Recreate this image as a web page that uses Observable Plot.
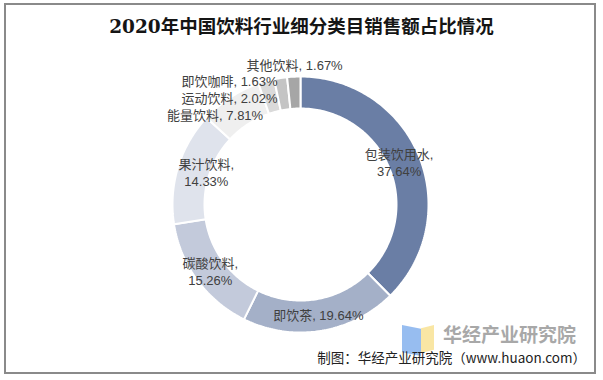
<!DOCTYPE html>
<html>
<head>
<meta charset="utf-8">
<script src="https://cdn.jsdelivr.net/npm/d3@7"></script>
<script src="https://cdn.jsdelivr.net/npm/@observablehq/plot@0.6"></script>
<style>
  html, body { margin: 0; padding: 0; background: #fff; }
  #wrap { position: relative; width: 603px; height: 380px; overflow: hidden; background: #fff; }
  #frame { position: absolute; left: 4px; top: 3px; width: 592px; height: 371px; box-sizing: border-box; border: 2px solid #8a8a8a; pointer-events: none; }
  #title { position: absolute; left: 0; top: 15px; width: 603px; text-align: center; font-family: "DejaVu Serif", "Noto Sans CJK SC", serif; font-weight: bold; font-size: 18.5px; line-height: 24px; color: #151515; }
  #chart { position: absolute; left: 0; top: 0; }
  #wm { position: absolute; left: 443px; top: 321px; font-family: "Noto Sans CJK SC", sans-serif; font-weight: bold; font-size: 19px; line-height: 26px; color: #9a9a9a; opacity: 0.85; }
  #iconB { position: absolute; left: 402px; top: 325px; width: 19px; height: 31px; background: #8cb6ee; clip-path: polygon(0 0, 100% 12%, 100% 100%, 0 88%); opacity: 0.9; }
  #iconY { position: absolute; left: 421px; top: 325px; width: 13px; height: 28px; background: #f8e39a; clip-path: polygon(0 12%, 100% 0, 100% 88%, 0 100%); opacity: 0.9; }
  #caption { position: absolute; right: 17px; top: 347px; font-family: "Noto Sans CJK SC", sans-serif; font-size: 13.5px; line-height: 20px; color: #222; white-space: nowrap; }
</style>
</head>
<body>
<div id="wrap">
  <div id="iconB"></div>
  <div id="iconY"></div>
  <div id="wm">华经产业研究院</div>
  <div id="chart"></div>
  <div id="title">2020年中国饮料行业细分类目销售额占比情况</div>
  <div id="caption">制图：华经产业研究院（www.huaon.com）</div>
  <div id="frame"></div>
</div>
<script>
// ---- data ----
const categories = ["包装饮用水", "即饮茶", "碳酸饮料", "果汁饮料", "能量饮料", "运动饮料", "即饮咖啡", "其他饮料"];
const shares = [37.64, 19.64, 15.26, 14.33, 7.81, 2.02, 1.63, 1.67];
const palette = ["#6a7ea5", "#a4b0c8", "#c3cadb", "#dfe3ec", "#efefef", "#dadada", "#c4c4c4", "#a6a6a6"];

// ---- layout ----
const W = 603, H = 380;
const cx = 300, cy = 204, rOuter = 128, rInner = 96, rLabel = 112;

const rows = categories.map((name, i) => ({name, share: shares[i]}));
const arcs = d3.pie().sort(null).value(d => d.share)(rows);

const pt = (a, r) => [cx + r * Math.sin(a), cy - r * Math.cos(a)];

// polygon points for each slice
const pts = [];
arcs.forEach(a => {
  const n = Math.max(2, Math.ceil((a.endAngle - a.startAngle) / (Math.PI / 180)));
  const ring = [];
  for (let k = 0; k <= n; k++) ring.push(pt(a.startAngle + (a.endAngle - a.startAngle) * k / n, rOuter));
  for (let k = n; k >= 0; k--) ring.push(pt(a.startAngle + (a.endAngle - a.startAngle) * k / n, rInner));
  ring.push(ring[0]);
  ring.forEach(([x, y]) => pts.push({name: a.data.name, x, y}));
});

// labels
const labels = [];
let prevY = null;
const smallArcs = arcs.filter(a => a.data.share < 10);
arcs.forEach(a => {
  const mid = (a.startAngle + a.endAngle) / 2;
  const [x, y] = pt(mid, rLabel);
  const pct = a.data.share.toFixed(2) + "%";
  if (a.data.share >= 10) {
    const wrap = a.data.name.length >= 4;
    const shift = Math.abs(Math.sin(mid)) > 0.9 && Math.sin(mid) < 0 ? 13 : (Math.sin(mid) > 0.9 ? -5 : 0);
    labels.push({x: x + shift, y, text: a.data.name + (wrap ? ",\n" : ", ") + pct, anchor: "middle"});
  } else {
    const idx = smallArcs.indexOf(a);
    const ly = idx === 0 ? y + 5 : prevY - 17;
    prevY = ly;
    const last = idx === smallArcs.length - 1;
    labels.push({
      x: last ? x : Math.min(x + 24, cx - 23),
      y: ly,
      text: a.data.name + ", " + pct,
      anchor: last ? "middle" : "end"
    });
  }
});

const chart = Plot.plot({
  width: W,
  height: H,
  margin: 0,
  x: {domain: [0, W], range: [0, W], axis: null},
  y: {domain: [0, H], range: [0, H], axis: null},
  color: {domain: categories, range: palette},
  style: {background: "transparent"},
  marks: [
    Plot.line(pts, {x: "x", y: "y", z: "name", fill: "name", stroke: "#ffffff", strokeWidth: 2, strokeLinejoin: "miter", curve: "linear"}),
    Plot.text(labels.filter(d => d.anchor === "middle"), {x: "x", y: "y", text: "text", textAnchor: "middle", lineHeight: 1.3, fontSize: 13, fill: "#404040", fontFamily: "Liberation Sans, Noto Sans CJK SC, sans-serif"}),
    Plot.text(labels.filter(d => d.anchor === "end"), {x: "x", y: "y", text: "text", textAnchor: "end", fontSize: 13, fill: "#404040", fontFamily: "Liberation Sans, Noto Sans CJK SC, sans-serif"})
  ]
});
document.getElementById("chart").appendChild(chart);
</script>
</body>
</html>
